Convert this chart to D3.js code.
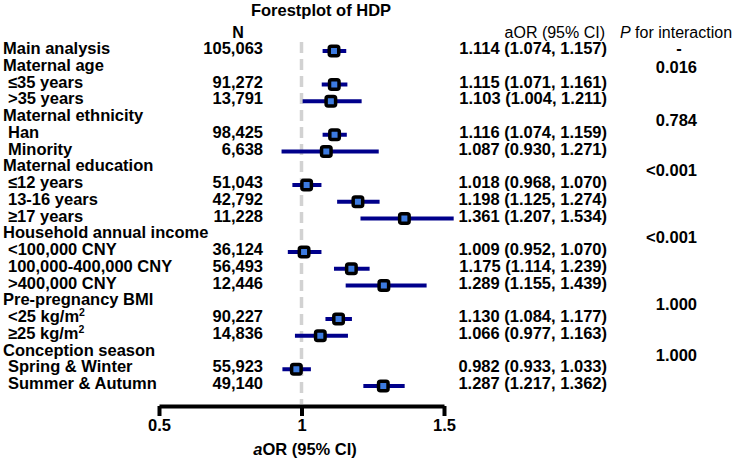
<!DOCTYPE html>
<html><head><meta charset="utf-8">
<script src="https://cdn.jsdelivr.net/npm/d3@7"></script>
<style>
body{margin:0;background:#fff;}
svg text{font-family:"Liberation Sans",Arial,sans-serif;}
</style></head>
<body><svg id="c" width="744" height="461"></svg>
<script>
const rowLabels = ["Main analysis","Maternal age","≤35 years",">35 years","Maternal ethnicity","Han","Minority",
  "Maternal education","≤12 years","13-16 years","≥17 years","Household annual income","<100,000 CNY",
  "100,000-400,000 CNY",">400,000 CNY","Pre-pregnancy BMI","<25 kg/m","≥25 kg/m","Conception season",
  "Spring & Winter","Summer & Autumn"];
const isHeading = [1,1,0,0,1,0,0,1,0,0,0,1,0,0,0,1,0,0,1,0,0];
const superscript = ["","","","","","","","","","","","","","","","","2","2","","",""];
const nValues = ["105,063","","91,272","13,791","","98,425","6,638","","51,043","42,792","11,228","",
  "36,124","56,493","12,446","","90,227","14,836","","55,923","49,140"];
const orValues = [1.114,null,1.115,1.103,null,1.116,1.087,null,1.018,1.198,1.361,null,1.009,1.175,1.289,null,1.130,1.066,null,0.982,1.287];
const lowValues = [1.074,null,1.071,1.004,null,1.074,0.930,null,0.968,1.125,1.207,null,0.952,1.114,1.155,null,1.084,0.977,null,0.933,1.217];
const highValues = [1.157,null,1.161,1.211,null,1.159,1.271,null,1.070,1.274,1.534,null,1.070,1.239,1.439,null,1.177,1.163,null,1.033,1.362];
const orText = orValues.map((v,i)=> v==null ? "" : `${v.toFixed(3)} (${lowValues[i].toFixed(3)}, ${highValues[i].toFixed(3)})`);
const pValues = ["-","0.016","0.784","<0.001","<0.001","1.000","1.000"];
const pRowPos = [0,1.12,4.3,7.3,11.3,15.3,18.3];
const axisTicks = [0.5,1,1.5];

const svg = d3.select("#c");
const FS = 16.5;
const x = d3.scaleLinear().domain([0.5,1.5]).range([159,444]);
const y = d3.scaleLinear().domain([0,20]).range([48,383]);
const base = 6; // baseline offset from row center
const markOff = 3;

// title
svg.append("text").attr("x",321).attr("y",16).attr("text-anchor","middle")
  .attr("font-size",FS).attr("font-weight","bold").text("Forestplot of HDP");

// headers
const hy = 32.5 + 5.6;
svg.append("text").attr("x",238).attr("y",hy).attr("text-anchor","middle")
  .attr("font-size",16).attr("font-weight","bold").text("N");
svg.append("text").attr("x",605).attr("y",hy).attr("text-anchor","end")
  .attr("font-size",16).text("aOR (95% CI)");
const ph = svg.append("text").attr("x",620).attr("y",hy).attr("font-size",16);
ph.append("tspan").attr("font-style","italic").text("P");
ph.append("tspan").text(" for interaction");

// reference dashed line
svg.append("line").attr("x1",x(1)).attr("x2",x(1)).attr("y1",42).attr("y2",404)
  .attr("stroke","#d2d2d2").attr("stroke-width",3.5).attr("stroke-dasharray","11,6");

// row labels
const idx = d3.range(rowLabels.length);
const lab = svg.selectAll("text.lab").data(idx).join("text").attr("class","lab")
  .attr("x",i=>isHeading[i]?3:8).attr("y",i=>y(i)+base)
  .attr("font-size",FS).attr("font-weight","bold");
lab.append("tspan").text(i=>rowLabels[i]);
lab.filter(i=>superscript[i]).append("tspan").attr("dy",-6).attr("font-size",10.5).text(i=>superscript[i]);

svg.selectAll("text.n").data(idx).join("text").attr("class","n")
  .attr("x",263).attr("y",i=>y(i)+base).attr("text-anchor","end")
  .attr("font-size",FS).attr("font-weight","bold").text(i=>nValues[i]);

svg.selectAll("text.or").data(idx).join("text").attr("class","or")
  .attr("x",607).attr("y",i=>y(i)+base).attr("text-anchor","end")
  .attr("font-size",FS).attr("font-weight","bold").text(i=>orText[i]);

svg.selectAll("text.p").data(pValues).join("text").attr("class","p")
  .attr("x",(d)=>d==="-"?679:697).attr("y",(d,i)=>y(pRowPos[i])+base)
  .attr("text-anchor",d=>d==="-"?"middle":"end")
  .attr("font-size",FS).attr("font-weight","bold").text(d=>d);

// CIs and markers
const est = idx.filter(i=>orValues[i]!=null);
svg.selectAll("line.ci").data(est).join("line").attr("class","ci")
  .attr("x1",i=>x(lowValues[i])).attr("x2",i=>x(highValues[i]))
  .attr("y1",i=>y(i)+markOff).attr("y2",i=>y(i)+markOff)
  .attr("stroke","#00008b").attr("stroke-width",4);
svg.selectAll("rect.mk").data(est).join("rect").attr("class","mk")
  .attr("x",i=>x(orValues[i])-4.75).attr("y",i=>y(i)+markOff-4.75)
  .attr("width",9.5).attr("height",9.5).attr("rx",2)
  .attr("fill","#3d7be0").attr("stroke","#000").attr("stroke-width",3.5);

// axis
const ax = svg.append("g").attr("transform","translate(0,406)")
  .call(d3.axisBottom(x).tickValues(axisTicks).tickFormat(d3.format("")).tickSizeInner(10).tickSizeOuter(0).tickPadding(3));
ax.select(".domain").attr("stroke","#000").attr("stroke-width",4);
ax.selectAll(".tick line").attr("stroke","#000").attr("stroke-width",4);
ax.selectAll(".tick text").attr("font-size",FS).attr("font-weight","bold").attr("fill","#000")
  .attr("font-family","Liberation Sans, Arial, sans-serif");

const xl = svg.append("text").attr("x",305).attr("y",449+base).attr("text-anchor","middle")
  .attr("font-size",FS).attr("font-weight","bold");
xl.append("tspan").attr("font-style","italic").text("a");
xl.append("tspan").text("OR (95% CI)");
</script></body></html>
